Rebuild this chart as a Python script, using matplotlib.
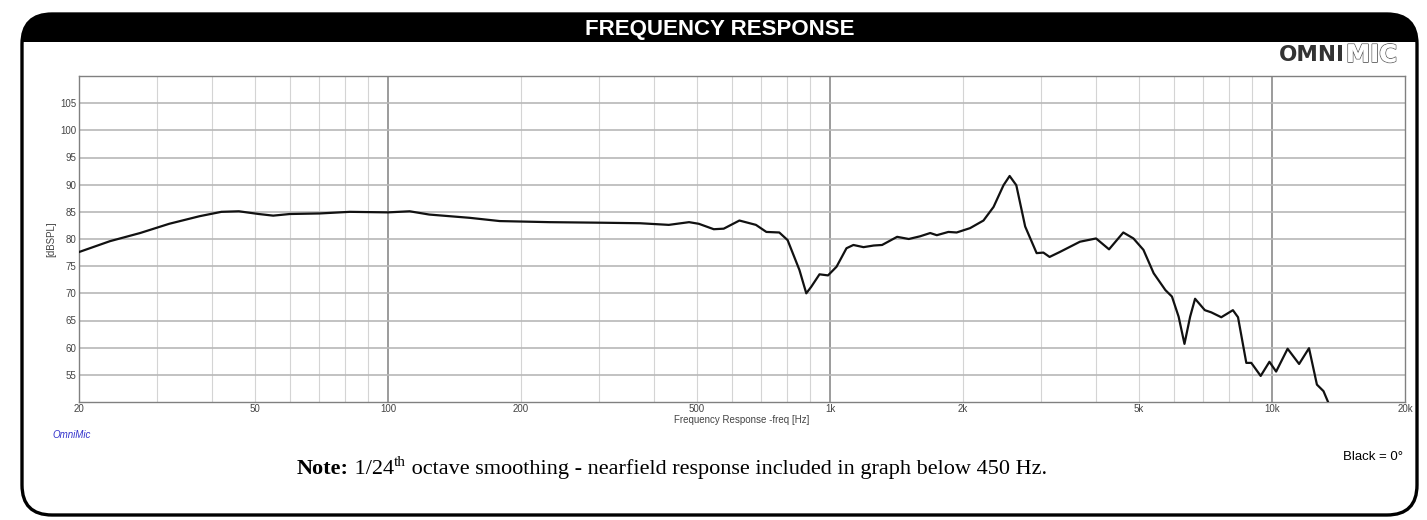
import numpy as np
import matplotlib
matplotlib.use("Agg")
import matplotlib.pyplot as plt
import matplotlib.patheffects as pe
from matplotlib.patches import FancyBboxPatch, Rectangle
from matplotlib.ticker import FixedLocator, NullFormatter

# response
freq_hz = [20, 23.5, 27.5, 32, 37.5, 42, 46, 51, 55, 60, 70, 82, 100, 112, 124,
           153, 179, 232, 302, 372, 432, 480, 505, 546, 575, 624, 680, 718, 768,
           802, 853, 884, 907, 947, 990, 1035, 1090, 1130, 1191, 1256, 1312, 1419,
           1508, 1600, 1686, 1745, 1853, 1935, 2075, 2225, 2345, 2470, 2550, 2640,
           2765, 2935, 3040, 3140, 3310, 3678, 4000, 4280, 4610, 4860, 5120, 5400,
           5740, 5940, 6150, 6340, 6530, 6700, 7050, 7290, 7680, 8160, 8380, 8750,
           8980, 9430, 9870, 10220, 10850, 11520, 12130, 12640, 13080, 13380]
spl_db = [77.6, 79.6, 81.1, 82.8, 84.2, 85.0, 85.1, 84.6, 84.3, 84.6, 84.7, 85.0,
          84.9, 85.1, 84.5, 83.9, 83.3, 83.1, 83.0, 82.9, 82.6, 83.1, 82.8, 81.8,
          81.9, 83.4, 82.6, 81.3, 81.2, 79.8, 74.3, 70.0, 71.2, 73.5, 73.3, 74.9,
          78.3, 78.9, 78.5, 78.8, 78.9, 80.4, 80.0, 80.5, 81.1, 80.7, 81.3, 81.2,
          82.0, 83.4, 85.9, 89.9, 91.6, 89.9, 82.3, 77.4, 77.5, 76.7, 77.6, 79.5,
          80.1, 78.1, 81.2, 80.1, 78.0, 73.7, 70.6, 69.4, 65.7, 60.7, 65.7, 69.0,
          66.9, 66.5, 65.6, 66.9, 65.6, 57.2, 57.2, 54.8, 57.4, 55.6, 59.8, 57.0,
          59.9, 53.2, 52.0, 50.1]

x_major = [100, 1000, 10000]
x_minor = [30, 40, 50, 60, 70, 80, 90, 200, 300, 400, 500, 600, 700, 800, 900,
           2000, 3000, 4000, 5000, 6000, 7000, 8000, 9000]
x_ticks = [20, 50, 100, 200, 500, 1000, 2000, 5000, 10000, 20000]
x_ticklabels = ["20", "50", "100", "200", "500", "1k", "2k", "5k", "10k", "20k"]
y_ticks = [55, 60, 65, 70, 75, 80, 85, 90, 95, 100, 105]

W, H = 1427, 520
fig = plt.figure(figsize=(W / 100, H / 100), dpi=100)

# background frame drawn in pixel coordinates
bg = fig.add_axes([0, 0, 1, 1], zorder=0)
bg.set_xlim(0, W)
bg.set_ylim(H, 0)
bg.axis("off")
frame = FancyBboxPatch((22, 14), 1395, 501, boxstyle="round,pad=0,rounding_size=30",
                       lw=2.4, ec="black", fc="white", zorder=1)
bg.add_patch(frame)
bar = Rectangle((10, 10), 1410, 32, fc="black", ec="none", zorder=2)
bg.add_patch(bar)
bar.set_clip_path(frame)
bg.text(720, 29, "FREQUENCY RESPONSE", color="white", fontsize=16, fontweight="bold",
        family="Liberation Sans", ha="center", va="center", zorder=3)

# logo
bg.text(1345, 55, "OMNI", color="#333333", fontsize=15.5, fontweight="heavy",
        family="DejaVu Sans", ha="right", va="center", zorder=3)
bg.text(1346, 55, "MIC", color="white", fontsize=17.5, fontweight="heavy",
        family="DejaVu Sans", ha="left", va="center", zorder=3,
        path_effects=[pe.withStroke(linewidth=1.3, foreground="#666666"), pe.Normal()])

ax = fig.add_axes([79 / W, 1 - 402 / H, 1326 / W, 326 / H], zorder=2)
ax.set_xscale("log")
ax.set_xlim(20, 20000)
ax.set_ylim(50, 110)

for f in x_minor:
    ax.axvline(f, color="#d4d4d4", lw=0.8, zorder=1)
for f in x_major:
    ax.axvline(f, color="#808080", lw=1.1, zorder=1)
for v in y_ticks:
    ax.axhline(v, color="#b8b8b8", lw=1.2, zorder=1)

ax.plot(freq_hz, spl_db, color="#111111", lw=1.6, zorder=3, solid_joinstyle="round")

ax.xaxis.set_major_locator(FixedLocator(x_ticks))
ax.set_xticklabels(x_ticklabels)
ax.xaxis.set_minor_formatter(NullFormatter())
ax.tick_params(axis="x", which="minor", length=0)
ax.set_yticks(y_ticks)
ax.tick_params(length=0, labelsize=7, labelcolor="#444444")
ax.tick_params(axis="x", pad=1.5)
ax.tick_params(axis="y", pad=2)
for lab in ax.get_xticklabels() + ax.get_yticklabels():
    lab.set_family("Liberation Sans")
for s in ax.spines.values():
    s.set_color("#808080")
    s.set_linewidth(1.0)

ax.set_ylabel("[dBSPL]", fontsize=7, color="#444444", family="Liberation Sans", labelpad=3)
ax.set_xlabel("Frequency Response -freq [Hz]", fontsize=7, color="#444444",
              family="Liberation Sans", labelpad=0.5)

bg.text(52, 435, "OmniMic", color="#3333cc", fontsize=7, style="italic",
        family="Liberation Sans", ha="left", va="center", zorder=3)
bg.text(1403, 457, "Black = 0\u00b0", color="black", fontsize=9.5,
        family="Liberation Sans", ha="right", va="center", zorder=3)

# note line, built piece by piece
fig.canvas.draw()
r = fig.canvas.get_renderer()
x0, yb = 297, 474
pieces = [("Note:", 16, "bold", 0), (" 1/24", 16, "normal", 0), ("th", 11, "normal", -8),
          (" octave smoothing - nearfield response included in graph below 450 Hz.", 16, "normal", 0)]
for txt, size, weight, dy in pieces:
    t = bg.text(x0, yb + dy, txt, fontsize=size, fontweight=weight, family="Liberation Serif",
                ha="left", va="baseline", zorder=3)
    bb = t.get_window_extent(renderer=r)
    x0 += bb.width

fig.savefig("out.png", dpi=100)
